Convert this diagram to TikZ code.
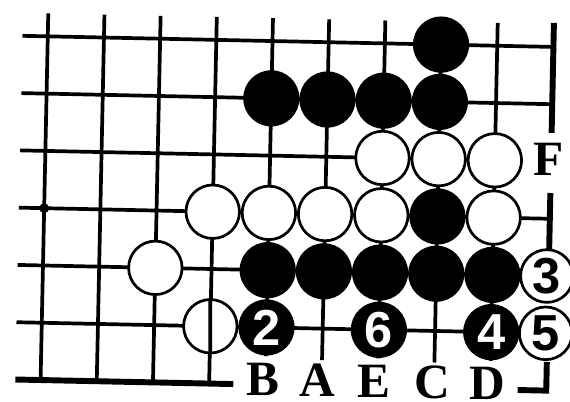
\documentclass[tikz,border=0pt]{standalone}
\usepackage{fontspec}
\newfontfamily\numfont{Liberation Sans}
\newfontfamily\lblfont{Liberation Serif}
\usepackage{tikz}

\begin{document}
\begin{tikzpicture}[
  x=1.6cm, y={(0,-1.6313cm)},
  gridline/.style = {line width=3pt},
  edgeline/.style = {line width=4.8pt},
  hoshi/.style = {circle, fill=black, minimum size=8pt, inner sep=0pt},
  bstone/.style = {circle, fill=black, minimum size=1.6cm, inner sep=0pt},
  wstone/.style = {circle, draw=black, fill=white, line width=2.2pt, minimum size=1.6cm-2.2pt, inner sep=0pt},
  bnum/.style = {bstone, text=white, font=\numfont\bfseries\fontsize{41}{41}\selectfont},
  wnum/.style = {wstone, minimum size=1.5cm, font=\numfont\bfseries\fontsize{41}{41}\selectfont},
  lbl/.style = {inner sep=0pt, font=\lblfont\bfseries\fontsize{40}{40}\selectfont}
]
\useasboundingbox (0.215,0.274) rectangle (10.358,7.290);

\begin{scope}[rotate around={-1.2:(5.5,4)}]
% board lines
\draw[gridline] (0.55,1) -- (10,1);
\draw[gridline] (0.55,2) -- (10,2);
\draw[gridline] (0.55,3) -- (9,3);
\draw[gridline] (0.55,4) -- (10,4);
\draw[gridline] (0.55,5) -- (10,5);
\draw[gridline] (0.55,6) -- (10,6);

\draw[gridline] (1,0.6) -- (1,7);
\draw[gridline] (2,0.6) -- (2,7);
\draw[gridline] (3,0.6) -- (3,7);
\draw[gridline] (4,0.6) -- (4,7);
\draw[gridline] (5,0.6) -- (5,6.5);
\draw[gridline] (6,0.6) -- (6,6.55);
\draw[gridline] (7,0.6) -- (7,6.5);
\draw[gridline] (8,0.6) -- (8,6.55);
\draw[gridline] (9,0.6) -- (9,6.5);

% board edges
\draw[edgeline] (0.55,7) -- (4.43,7);
\draw[edgeline] (10,0.58) -- (10,2.5);
\draw[edgeline] (10,3.55) -- (10,4.6);
\draw[edgeline] (9.49,7) -- (10,7) -- (10,6.5);

\node[hoshi] (star) at (1,4) {};

% black stones
\node[bstone] (b81) at (8,1) {};
\node[bstone] (b52) at (5,2) {};
\node[bstone] (b62) at (6,2) {};
\node[bstone] (b72) at (7,2) {};
\node[bstone] (b82) at (8,2) {};
\node[bstone] (b84) at (8,4) {};
\node[bstone] (b55) at (5,5) {};
\node[bstone] (b65) at (6,5) {};
\node[bstone] (b75) at (7,5) {};
\node[bstone] (b85) at (8,5) {};
\node[bstone] (b95) at (9,5) {};

% white stones
\node[wstone] (w73) at (7,3) {};
\node[wstone] (w83) at (8,3) {};
\node[wstone] (w93) at (9,3) {};
\node[wstone] (w44) at (4,4) {};
\node[wstone] (w54) at (5,4) {};
\node[wstone] (w64) at (6,4) {};
\node[wstone] (w74) at (7,4) {};
\node[wstone] (w94) at (9,4) {};
\node[wstone] (w35) at (3,5) {};
\node[wstone] (w46) at (4,6) {};
\draw[gridline] (w46.north) -- (w46.south);

% numbered moves
\node[bnum] (m2) at (5,6) {2};
\node[wnum] (m3) at (9.97,5) {3};
\node[bnum] (m4) at (9,6) {4};
\node[wnum] (m5) at (9.97,6) {5};
\node[bnum] (m6) at (7,6) {6};

% letters
\node[lbl] (F) at (9.95,2.97) {F};
\node[lbl] (B) at (4.95,6.9) {B};
\node[lbl] (A) at (5.93,6.9) {A};
\node[lbl] (E) at (6.93,6.9) {E};
\node[lbl] (C) at (7.97,6.9) {C};
\node[lbl] (D) at (8.95,6.9) {D};
\end{scope}
\end{tikzpicture}
\end{document}
